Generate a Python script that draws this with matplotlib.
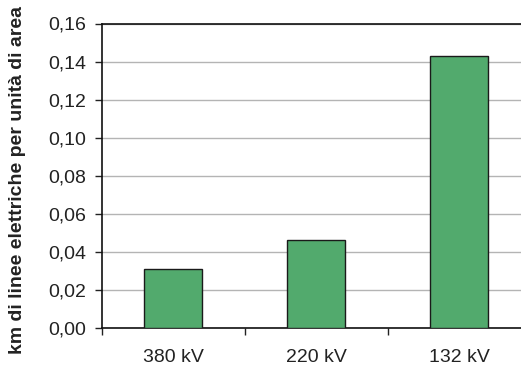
import matplotlib
matplotlib.use("Agg")
import matplotlib.pyplot as plt
from matplotlib.ticker import FixedLocator, FuncFormatter

plt.rcParams['font.family'] = ['Liberation Sans', 'DejaVu Sans']

categories = ["380 kV", "220 kV", "132 kV"]
values = [0.031, 0.046, 0.143]
y_ticks = [0.00, 0.02, 0.04, 0.06, 0.08, 0.10, 0.12, 0.14, 0.16]

W, H = 521, 368
fig = plt.figure(figsize=(W / 100, H / 100), dpi=100)
left, right, bottom, top = 101.5, 530.5, 328, 23.5
ax = fig.add_axes([left / W, (H - bottom) / H, (right - left) / W, (bottom - top) / H])

x = range(len(categories))
ax.bar(x, values, width=0.4, color="#52aa6d", edgecolor="#1a1a1a", linewidth=1.0, zorder=3)

ax.set_xlim(-0.5, 2.5)
ax.set_ylim(0, 0.16)
ax.yaxis.set_major_locator(FixedLocator(y_ticks))
ax.yaxis.set_major_formatter(FuncFormatter(lambda v, p: f"{v:.2f}".replace(".", ",")))
ax.grid(axis="y", color="#b4b4b4", linewidth=1.0, zorder=0)

# category labels at centres, tick marks at boundaries
ax.set_xticks(list(x))
ax.set_xticklabels(categories, fontsize=14, color="#222222")
ax.tick_params(axis="x", which="major", length=0, pad=15)
ax.set_xticks([-0.5, 0.5, 1.5, 2.5], minor=True)
ax.tick_params(axis="x", which="minor", length=5, width=1, color="#222222", direction="out")
ax.tick_params(axis="y", length=5, width=1, color="#222222", labelsize=14, labelcolor="#222222", pad=6)

for s in ["left", "top", "bottom"]:
    ax.spines[s].set_color("#111111")
    ax.spines[s].set_linewidth(1.2)
ax.spines["right"].set_visible(False)

fig.text(18 / W, 1 - 180 / H, "km di linee elettriche per unità di area", rotation=90,
         ha="center", va="center", fontsize=14, fontweight="bold", color="#222222")

fig.savefig("out.png", dpi=100)
